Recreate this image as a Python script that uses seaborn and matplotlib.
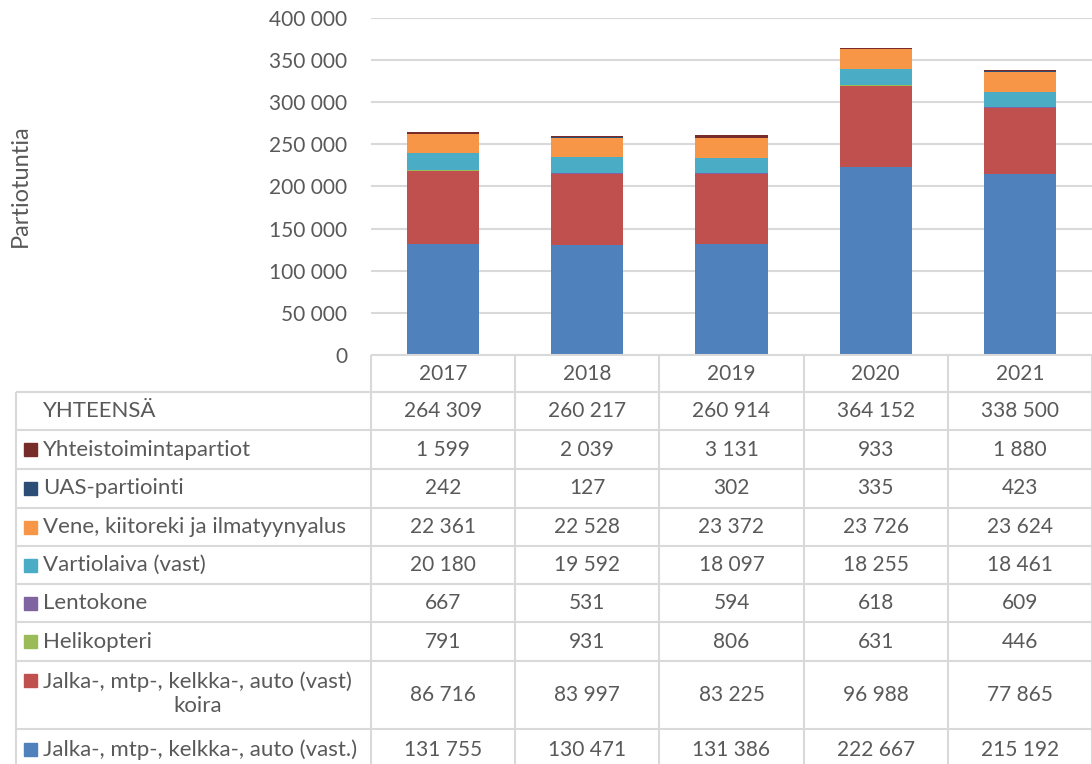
import numpy as np
import matplotlib
matplotlib.use("Agg")
import matplotlib.pyplot as plt
import seaborn as sns

# Data
years = ["2017", "2018", "2019", "2020", "2021"]
totals = [264309, 260217, 260914, 364152, 338500]

# Series listed bottom of stack -> top of stack
series_names = [
    "Jalka-, mtp-, kelkka-, auto (vast.)",
    "Jalka-, mtp-, kelkka-, auto (vast)\nkoira",
    "Helikopteri",
    "Lentokone",
    "Vartiolaiva (vast)",
    "Vene, kiitoreki ja ilmatyynyalus",
    "UAS-partiointi",
    "Yhteistoimintapartiot",
]
jalka = [131755, 130471, 131386, 222667, 215192]
jalka_koira = [86716, 83997, 83225, 96988, 77865]
helikopteri = [791, 931, 806, 631, 446]
lentokone = [667, 531, 594, 618, 609]
vartiolaiva = [20180, 19592, 18097, 18255, 18461]
vene = [22361, 22528, 23372, 23726, 23624]
uas = [242, 127, 302, 335, 423]
yhteistoiminta = [1599, 2039, 3131, 933, 1880]
series_values = [jalka, jalka_koira, helikopteri, lentokone,
                 vartiolaiva, vene, uas, yhteistoiminta]
colors = ["#4F81BD", "#C0504D", "#9BBB59", "#8064A2",
          "#4BACC6", "#F79646", "#2C4D75", "#772C2A"]

text_color = "#595959"
grid_color = "#D9D9D9"
num_size = 15
label_size = 16

sns.set_style("white")
plt.rcParams["font.family"] = ["Lato", "DejaVu Sans"]
plt.rcParams["font.size"] = num_size

W, H = 1092, 764
fig = plt.figure(figsize=(W / 100, H / 100), dpi=100)

# Plot area in pixel coordinates
left, right, top, bottom = 371, 1092, 18, 355
ax = fig.add_axes([left / W, 1 - bottom / H, (right - left) / W, (bottom - top) / H])

# Stacked bars: draw cumulative totals from the top layer down
cum = np.cumsum(np.array(series_values), axis=0)
for i in range(len(series_values) - 1, -1, -1):
    sns.barplot(x=years, y=cum[i], color=colors[i], saturation=1,
                width=0.5, ax=ax, zorder=3, linewidth=0)

ax.set_ylim(0, 400000)
ax.set_xlim(-0.5, len(years) - 0.5)
ax.set_yticks(np.arange(0, 400001, 50000))
ax.set_yticklabels([f"{v:,}".replace(",", " ") for v in range(0, 400001, 50000)],
                   color=text_color, fontsize=num_size)
ax.tick_params(axis="y", length=0, pad=17)
ax.set_xticks([])
ax.set_xlabel("")
ax.set_ylabel("")
ax.grid(axis="y", color=grid_color, linewidth=1.5, zorder=0)
for s in ax.spines.values():
    s.set_visible(False)

fig.text(20 / W, 1 - 186 / H, "Partiotuntia", rotation=90, ha="center",
         va="center", color=text_color, fontsize=17)

# Data table below the plot
tax = fig.add_axes([0, 0, 1, 1])
tax.set_xlim(0, W)
tax.set_ylim(H, 0)
tax.axis("off")

col_edges = np.linspace(left, right, len(years) + 1)
row_edges = [355, 392, 430, 469, 508, 546, 584, 622, 661, 729, 770]
label_left = 16

# horizontal lines
tax.hlines(row_edges[0], left, right, color=grid_color, lw=1.5)
for y in row_edges[1:]:
    tax.hlines(y, label_left, right, color=grid_color, lw=1.5)
# vertical lines
for x in col_edges:
    tax.vlines(x, row_edges[0], H, color=grid_color, lw=1.5)
tax.vlines(label_left, row_edges[1], H, color=grid_color, lw=1.5)

centers = (col_edges[:-1] + col_edges[1:]) / 2


def fmt(v):
    return f"{v:,}".replace(",", " ")


# header row with years
yc = (row_edges[0] + row_edges[1]) / 2
for cx, yr in zip(centers, years):
    tax.text(cx, yc, yr, ha="center", va="center", color=text_color,
             fontsize=num_size)

# table rows: total first, then series from top of stack down
rows = [("YHTEENSÄ", None, totals)]
for name, c, vals in zip(series_names[::-1], colors[::-1], series_values[::-1]):
    rows.append((name, c, vals))

for r, (name, c, vals) in enumerate(rows):
    y0, y1 = row_edges[r + 1], row_edges[r + 2]
    ym = (y0 + y1) / 2
    if "\n" in name:
        ty = y0 + 20
        tax.text(43, ty - 10, name, ha="left", va="top", color=text_color,
                 multialignment="center", linespacing=1.3, fontsize=label_size)
        tax.add_patch(plt.Rectangle((24, ty - 7), 13, 13, color=c))
    else:
        tax.text(43, ym, name, ha="left", va="center", color=text_color,
                 fontsize=label_size)
        if c is not None:
            tax.add_patch(plt.Rectangle((24, ym - 6.5), 13, 13, color=c))
    for cx, v in zip(centers, vals):
        tax.text(cx, ym, fmt(v), ha="center", va="center", color=text_color,
                 fontsize=num_size)

fig.savefig("out.png", dpi=100)
